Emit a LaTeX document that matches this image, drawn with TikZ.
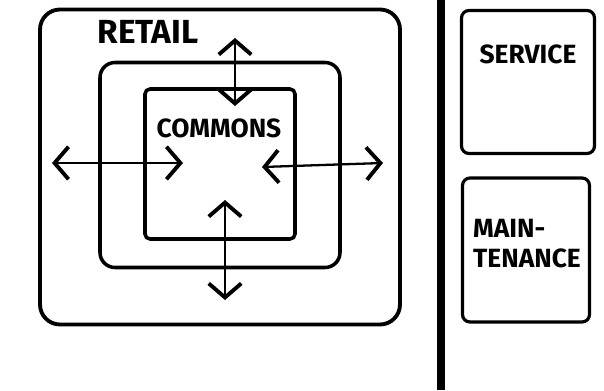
\documentclass[tikz,border=0pt]{standalone}
\usepackage{fontspec}
\setmainfont{Fira Sans}
\usetikzlibrary{arrows.meta}

\tikzset{
  zone/.style={draw,line width=2.2pt,rounded corners=4mm,inner sep=0pt},
  room/.style={draw,line width=1.8pt,rounded corners=1.5mm,inner sep=0pt},
  hand/.style={font=\bfseries\fontsize{15}{17}\selectfont,inner sep=0pt},
  twoway/.style={line width=1.3pt,
    {Straight Barb[length=2.8mm,width=6.5mm,line width=2.2pt]}-{Straight Barb[length=2.8mm,width=6.5mm,line width=2.2pt]}}
}

\begin{document}
\begin{tikzpicture}[x=0.2mm,y=-0.2mm]
    \useasboundingbox (0,0) rectangle (604,390);
    % retail ring round the commons
    \node[zone,minimum width=72mm,minimum height=63mm] (retail) at (220,167) {};
    \node[room,rounded corners=3mm,line width=2pt,minimum width=48mm,minimum height=41mm] (ring) at (220,165) {};
    \node[room,rounded corners=1mm,line width=2pt,minimum width=30mm,minimum height=30mm] (commons) at (220,164) {};
    \node[hand,font=\bfseries\fontsize{19}{21}\selectfont] (retailtext) at (148,32) {RETAIL};
    \node[hand] (commonstext) at (219,128) {COMMONS};
    \coordinate (wout) at (52,163);
    \coordinate (win) at (183,163);
    \coordinate (eout) at (383,163);
    \coordinate (ein) at (262,167);
    \coordinate (nout) at (235,38);
    \coordinate (nin) at (235,106);
    \coordinate (sout) at (225,300);
    \coordinate (sin) at (225,200);
    \draw[twoway] (wout) -- (win);
    \draw[twoway] (eout) -- (ein);
    \draw[twoway] (nout) -- (nin);
    \draw[twoway] (sout) -- (sin);
    % dividing wall
    \coordinate (walltop) at (441,0);
    \coordinate (wallbot) at (441,390);
    \draw[line width=4.5pt] (walltop) -- (wallbot);
    % back of house
    \node[room,minimum width=26.6mm,minimum height=28.6mm] (service) at (528,82) {};
    \node[room,minimum width=25.4mm,minimum height=28.8mm] (maint) at (526,250) {};
    \node[hand] (servicetext) at (528,54) {SERVICE};
    \node[hand,align=left] (mainttext) at (527,244) {MAIN-\\TENANCE};
\end{tikzpicture}
\end{document}
